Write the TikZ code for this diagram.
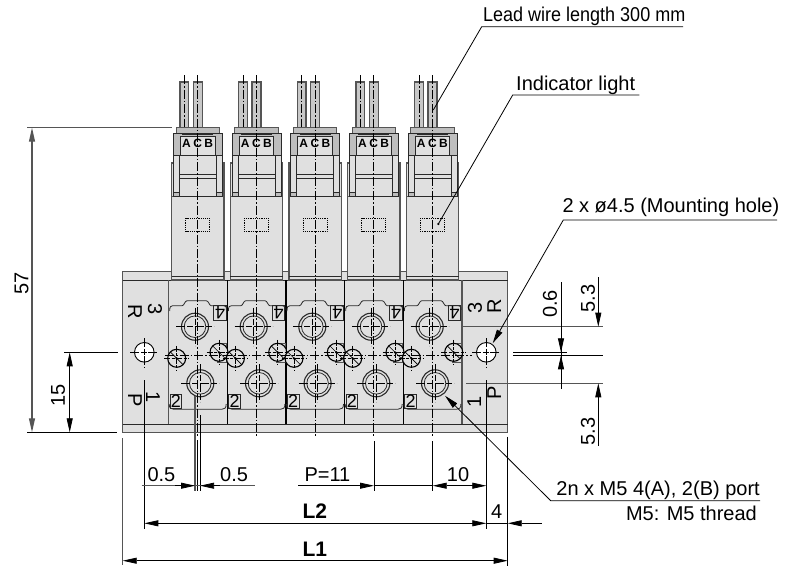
\documentclass[tikz,border=0pt]{standalone}
\usepackage{fontspec}
\setmainfont{Liberation Sans}
\usetikzlibrary{arrows.meta}
\definecolor{partgray}{HTML}{E0E0E0}
\definecolor{darkgray}{HTML}{BEBEBE}
\definecolor{edge}{HTML}{2A2A2A}
\definecolor{dimgray}{HTML}{555555}
\tikzset{
  part/.style={fill=partgray,draw=edge,line width=0.8pt},
  partg/.style={fill=darkgray,draw=edge,line width=0.8pt},
  center line/.style={draw=black,line width=0.6pt,dash pattern=on 9pt off 2pt on 1.5pt off 2pt},
  thin line/.style={draw=black,line width=0.8pt},
  ext line/.style={draw=dimgray,line width=1.1pt},
  dimtip/.style={-{Triangle[length=14pt,width=6pt]}},
  lbl/.style={inner sep=0,font=\fontsize{20}{20}\selectfont},
  leadlbl/.style={inner sep=0,xscale=0.9,font=\fontsize{20}{20}\selectfont},
  blbl/.style={inner sep=0,font=\fontsize{21}{21}\selectfont\bfseries},
  small/.style={inner sep=0,font=\fontsize{12}{12}\selectfont\bfseries},
  portnum/.style={inner sep=0,font=\fontsize{18}{18}\selectfont},
}
\begin{document}
\begin{tikzpicture}[x=1pt,y=-1pt]
\useasboundingbox (0,0) rectangle (792,568);
% manifold
\fill[partgray] (122.7,271.7) rectangle (507.7,432.2);
\draw[draw=dimgray,line width=1.3pt] (122.7,432.2) -- (122.7,271.7) -- (507.7,271.7) -- (507.7,432.2) -- cycle;
\draw[edge,line width=0.8pt] (122.7,424.2) -- (507.7,424.2);
\draw[edge,line width=0.8pt] (122.7,280) -- (507.7,280);
\foreach \x in {168.7,462}{\draw[dimgray,line width=1.2pt] (\x,280) -- (\x,424.2);}
\foreach \x in {227.3,286,344.7,403.3}{\draw[black,line width=1.4pt] (\x,280) -- (\x,424.2);}
% modules
\foreach \c in {197.7,256.4,315,373.7,432.4}{
  \pgfmathsetmacro{\ul}{\c-2.7}
  \pgfmathsetmacro{\ll}{\c+2.6}
  % wires
  \draw[fill=darkgray!70!partgray,draw=dimgray,line width=1.3pt] ({\c-17.7},82) rectangle ({\c-9},127.5);
  \draw[fill=darkgray!70!partgray,draw=dimgray,line width=1.3pt] ({\c-4.4},82) rectangle ({\c+4.6},127.5);
  \draw[center line] ({\c-13.3},75) -- ({\c-13.3},127);
  % body
  \draw[part,draw=dimgray,line width=1.2pt] ({\c-26},163) rectangle ({\c+26.3},196.7);
  \draw[part,draw=dimgray,line width=1.2pt] ({\c-26},196.7) rectangle ({\c+26.3},280);
  \draw[edge,line width=0.9pt] ({\c-26},276.2) -- ({\c+26.3},276.2);
  % clip housing
  \draw[part] ({\c-24.4},155) rectangle ({\c+24.6},196.7);
  \draw[part] ({\c-24.4},155) rectangle ({\c-18.4},196.7);
  \draw[part] ({\c+18.6},155) rectangle ({\c+24.6},196.7);
  \draw[partg] ({\c-24.4},192) rectangle ({\c-18.4},196.7);
  \draw[partg] ({\c+18.6},192) rectangle ({\c+24.6},196.7);
  \draw[part] ({\c-18.4},155) rectangle ({\c+18.6},178.3);
  \draw[edge,line width=1.2pt] ({\c-18.4},174.5) -- ({\c+18.6},174.5);
  % connector
  \draw[partg,draw=dimgray,line width=1pt] ({\c-21.7},127.3) rectangle ({\c+21.6},133.3);
  \draw[partg] ({\c-24.4},133.3) rectangle ({\c+24.6},155);
  \draw[part] ({\c-17.4},136) rectangle ({\c+17.3},155);
  \draw[edge,line width=1.2pt] ({\c-15.5},134.8) -- ({\c+15.5},134.8);
  \node[small] at ({\c-11.3},143.3) {A};
  \node[small] at ({\c},143.3) {C};
  \node[small] at ({\c+11},143.3) {B};
  % indicator window
  \draw[black,line width=0.7pt,dash pattern=on 1.2pt off 1pt] ({\c-12},218) rectangle ({\c+12},231.7);
  % port face outline
  \draw[edge,line width=0.8pt] ({\c-28},311) .. controls ({\c-28},306.5) and ({\c-27},305.7) .. ({\c-25},305.7) -- ({\c-15.5},305.7) .. controls ({\c-13.5},305.7) and ({\c-13},300.7) .. ({\c-10.5},300.7) -- ({\c+8.5},300.7) .. controls ({\c+11},300.7) and ({\c+11.5},305.7) .. ({\c+13.5},305.7) -- ({\c+26},305.7) .. controls ({\c+28},305.7) and ({\c+28.7},306.5) .. ({\c+28.7},310);
  \draw[edge,line width=0.8pt] ({\c-28.5},404) .. controls ({\c-28.5},408) and ({\c-27},409.3) .. ({\c-24},409.3) -- ({\c+24},409.3) .. controls ({\c+27},409.3) and ({\c+28.5},408) .. ({\c+28.5},404);
  \draw[edge,line width=0.8pt] ({\c+15.6},305.7) rectangle ({\c+28.3},320);
  \node[portnum,rotate=180] at ({\c+22.3},313) {4};
  \draw[edge,line width=0.8pt] ({\c-27.7},394.3) rectangle ({\c-16},408.3);
  \node[portnum] at ({\c-21.8},401.3) {2};
  % ports
  \foreach \px/\py in {\ul/326.7,\ll/383.3}{
    \draw[edge,line width=1.1pt] (\px,\py) circle[radius=13.5pt];
    \draw[edge,line width=0.8pt] (\px,\py) circle[radius=10.8pt];
    \draw[black,line width=0.5pt,dash pattern=on 9pt off 2pt on 6pt off 2pt] ({\px-19},\py) -- ({\px+19},\py);
    \draw[black,line width=0.5pt,dash pattern=on 9pt off 2pt on 6pt off 2pt] (\px,{\py-19}) -- (\px,{\py+19});
  }
  % small holes
  \draw[dimgray,line width=0.5pt] ({\c+20},343) rectangle ({\c+28.6},362);
  \foreach \px/\py in {{\c-21}/358.3,{\c+21.3}/352.3}{
    \pgfmathsetmacro{\qx}{\px}
    \draw[black,line width=1.1pt,fill=partgray] (\qx,\py) circle[radius=9pt];
    \draw[black,line width=0.6pt] ({\qx-6.4},{\py-6.4}) -- ({\qx+6.4},{\py+6.4});
    \draw[black,line width=0.6pt,dash pattern=on 6pt off 1.5pt on 3pt off 1.5pt] ({\qx-12.5},\py) -- ({\qx+12.5},\py);
    \draw[black,line width=0.6pt,dash pattern=on 6pt off 1.5pt on 3pt off 1.5pt] (\qx,{\py-12.5}) -- (\qx,{\py+12.5});
    \fill[black] (\qx,\py) circle[radius=1.3pt];
  }
  % centre line
  \draw[center line] (\c,75) -- (\c,437);
}
% central axis
\draw[center line] (165,355.2) -- (472,355.2);
% mounting holes
\foreach \hx/\hn in {144.3/left,486.3/right}{
  \draw[black,line width=0.9pt,fill=white] (\hx,352.3) circle[radius=9.8pt];
  \draw[black,line width=0.6pt,dash pattern=on 9pt off 1.5pt on 6pt off 1.5pt] ({\hx-14},352.3) -- ({\hx+14},352.3);
  \draw[black,line width=0.6pt,dash pattern=on 9pt off 1.5pt on 6pt off 1.5pt] (\hx,338) -- (\hx,366.6);
}
% block labels
\node[lbl,rotate=-90] at (155,309) {3};
\node[lbl,rotate=-90] at (135,311.5) {R};
\node[lbl,rotate=-90] at (153,396.7) {1};
\node[lbl,rotate=-90] at (135,400) {P};
\node[lbl,rotate=90] at (475,308.3) {3};
\node[lbl,rotate=90] at (494.3,306.7) {R};
\node[lbl,rotate=90] at (474.3,401.7) {1};
\node[lbl,rotate=90] at (494.3,393.3) {P};
% left dimensions
\draw[ext line] (27,127.7) -- (171.7,127.7);
\draw[thin line,line width=1pt] (27,432.3) -- (117,432.3);
\draw[thin line] (64,352.3) -- (118,352.3);
\draw[ext line,{Triangle[length=14pt,width=6pt]}-{Triangle[length=14pt,width=6pt]}] (32,127.7) -- (32,432.3);
\draw[thin line,{Triangle[length=14pt,width=6pt]}-{Triangle[length=14pt,width=6pt]}] (69.7,352.3) -- (69.7,432.3);
\node[lbl,rotate=90] at (21.7,283) {57};
\node[lbl,rotate=90] at (58,395) {15};
% right dimensions
\draw[ext line] (461.7,326.7) -- (603.3,326.7);
\draw[ext line] (466,383.3) -- (603.3,383.3);
\draw[thin line,line width=1pt] (513,355.3) -- (603.3,355.3);
\draw[thin line] (513,352.3) -- (566.7,352.3);
\draw[thin line] (561,282.3) -- (561,389);
\draw[thin line,dimtip] (561,330) -- (561,352.3);
\draw[thin line,dimtip] (561,377) -- (561,355.3);
\draw[thin line,dimtip] (598.3,277) -- (598.3,326.7);
\draw[thin line,dimtip] (598.3,446) -- (598.3,383.3);
\node[lbl,rotate=90] at (550,304) {0.6};
\node[lbl,rotate=90] at (588,298.5) {5.3};
\node[lbl,rotate=90] at (588,431.5) {5.3};
% leaders
\coordinate (leadA) at (481.7,26.7);
\coordinate (leadB) at (683,26.7);
\coordinate (leadT) at (433.3,110);
\draw[thin line] (leadB) -- (leadA) -- (leadT);
\node[leadlbl,anchor=base west] at (483,21.7) {Lead wire length 300 mm};
\coordinate (indA) at (512.7,95);
\coordinate (indB) at (639.3,95);
\coordinate (indT) at (438.3,224);
\draw[thin line] (indB) -- (indA) -- (indT);
\fill[black] (indT) circle[radius=1.2pt];
\node[lbl,anchor=base west] at (516,90) {Indicator light};
\coordinate (mntA) at (563.3,220);
\coordinate (mntB) at (777,220);
\coordinate (mntT) at (492.7,343.3);
\draw[thin line,dimtip] (mntB) -- (mntA) -- (mntT);
\node[lbl,anchor=base west] at (562.3,212.7) {2 x ø4.5 (Mounting hole)};
\coordinate (prtA) at (550.7,500.7);
\coordinate (prtB) at (760,500.7);
\coordinate (prtT) at (445,395.7);
\draw[thin line,dimtip] (prtB) -- (prtA) -- (prtT);
\node[lbl,anchor=base east] at (760,495) {2n x M5 4(A), 2(B) port};
\node[lbl,anchor=base east] at (757,520) {M5: M5 thread};
% bottom extension lines
\draw[ext line] (122.7,438) -- (122.7,565);
\draw[thin line] (144.3,380) -- (144.3,529);
\draw[thin line] (486.3,380) -- (486.3,529);
\draw[thin line] (507.7,436.7) -- (507.7,565.5);
\draw[ext line] (195,396) -- (195,491);
\draw[thin line] (197.3,440) -- (197.3,491);
\draw[thin line] (200.1,415) -- (200.1,491);
\draw[thin line] (374,441) -- (374,491);
\draw[thin line] (432.7,441) -- (432.7,491);
% bottom dimensions
\draw[ext line] (141.7,485.7) -- (255,485.7);
\draw[thin line,dimtip] (175,485.7) -- (195,485.7);
\draw[thin line,dimtip] (220,485.7) -- (200.1,485.7);
\draw[thin line,dimtip] (298,485.7) -- (374,485.7);
\draw[thin line] (374,485.7) -- (432.7,485.7);
\draw[thin line,dimtip] (460,485.7) -- (432.7,485.7);
\draw[thin line,dimtip] (460,485.7) -- (486.3,485.7);
\draw[thin line,{Triangle[length=14pt,width=6pt]}-{Triangle[length=14pt,width=6pt]}] (144.3,523.3) -- (486.3,523.3);
\draw[thin line] (486.3,523.3) -- (507.7,523.3);
\draw[thin line,dimtip] (541.7,523.3) -- (507.7,523.3);
\draw[thin line,{Triangle[length=14pt,width=6pt]}-{Triangle[length=14pt,width=6pt]}] (122.7,560.7) -- (507.7,560.7);
\node[lbl,anchor=base west] at (147.3,481) {0.5};
\node[lbl,anchor=base west] at (220,481) {0.5};
\node[lbl,anchor=base west] at (304.3,481.5) {P=11};
\node[lbl,anchor=base west] at (446.7,481.5) {10};
\node[lbl,anchor=base west] at (491,518.3) {4};
\node[blbl,anchor=base west] at (302.3,518.3) {L2};
\node[blbl,anchor=base west] at (302.3,556) {L1};
\end{tikzpicture}
\end{document}
